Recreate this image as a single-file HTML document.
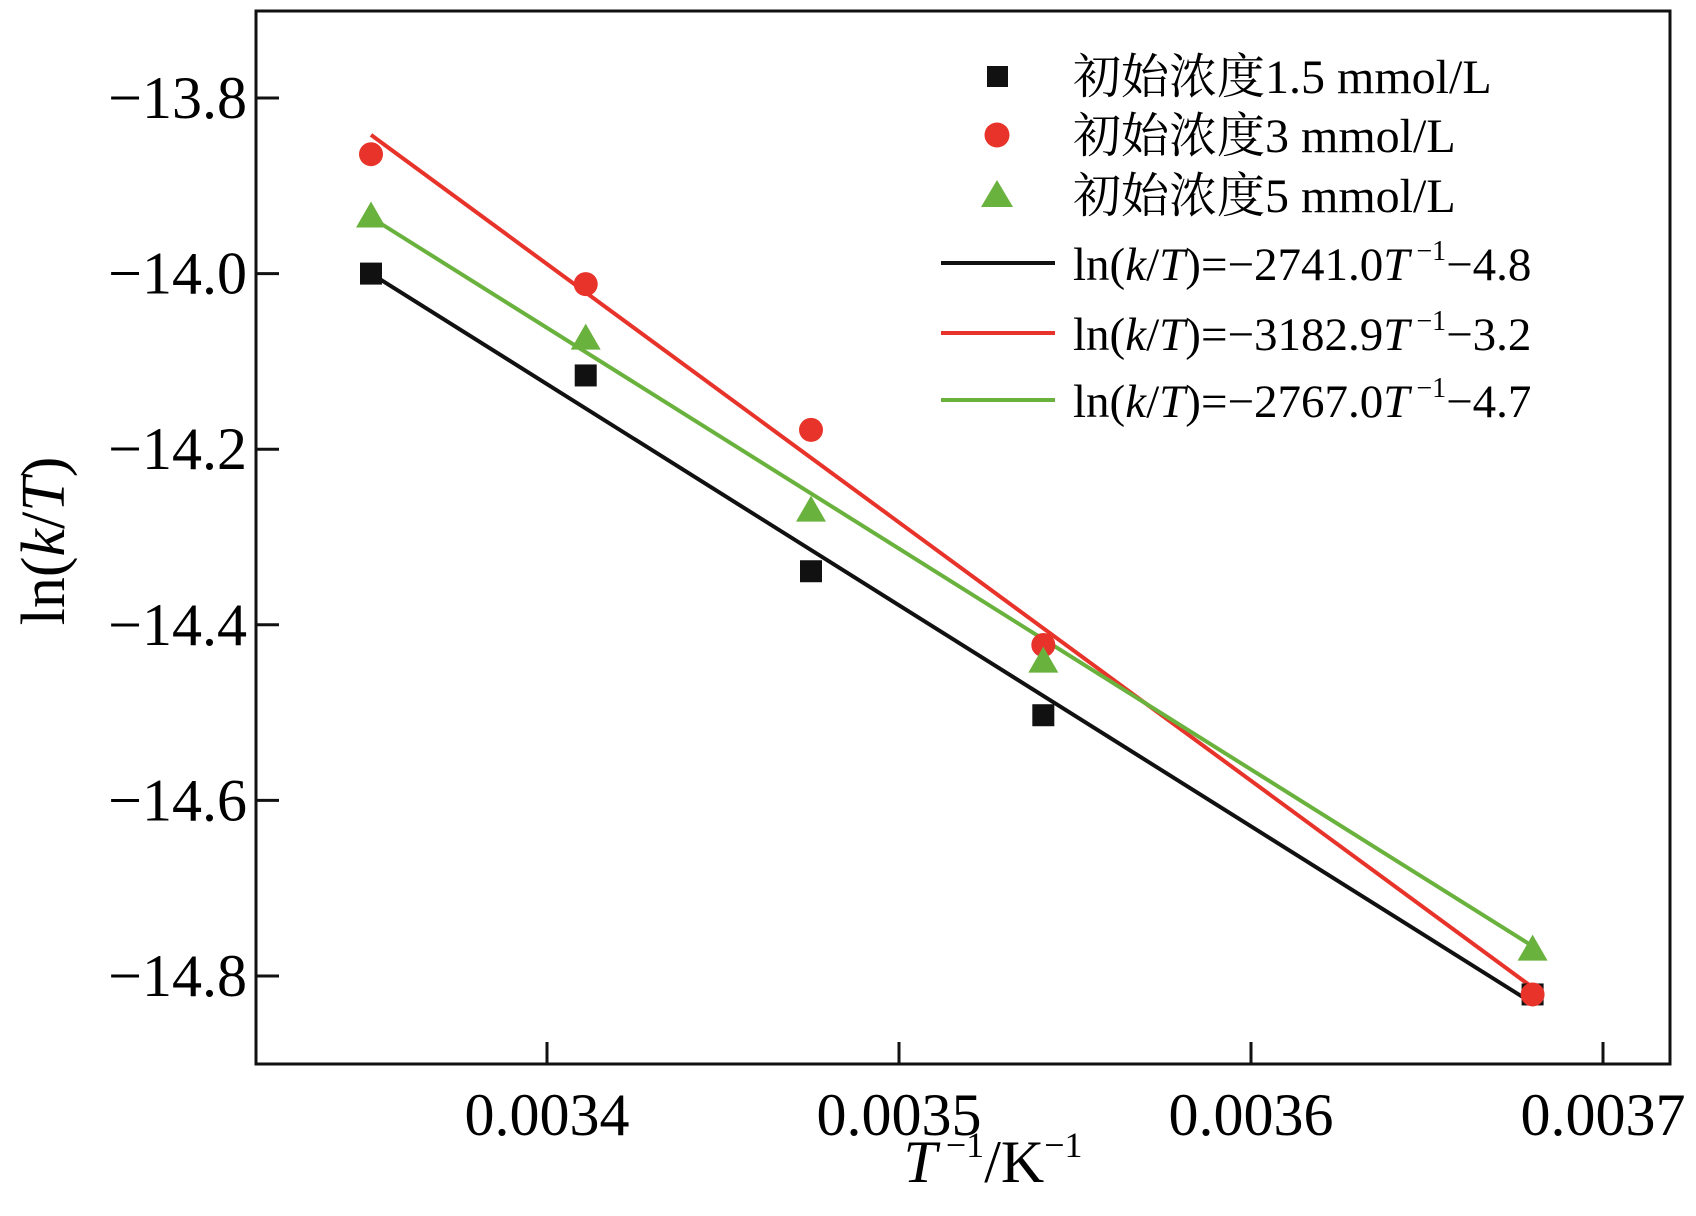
<!DOCTYPE html>
<html><head><meta charset="utf-8"><style>
html,body{margin:0;padding:0;background:#fff;}
svg{display:block;font-family:"Liberation Serif","Noto Serif CJK SC",serif;}
</style></head><body>
<svg id="chart" width="1696" height="1216" viewBox="0 0 1696 1216">
<rect x="256" y="11" width="1414" height="1053" fill="none" stroke="#111" stroke-width="3"/>
<g id="ticks"></g>
<g id="lines"></g>
<g id="points"></g>
<g id="legend">
  <rect x="987" y="66" width="21" height="21" fill="#111"/>
  <text x="1073" y="93" font-size="48">初始浓度1.5 mmol/L</text>
  <circle cx="997" cy="135" r="12.5" fill="#e8332a"/>
  <text x="1073" y="152" font-size="48">初始浓度3 mmol/L</text>
  <polygon points="997,180 1013,207 981,207" fill="#6ab23e"/>
  <text x="1073" y="212" font-size="48">初始浓度5 mmol/L</text>
  <line x1="941" y1="263" x2="1055" y2="263" stroke="#111" stroke-width="4"/>
  <text x="1073" y="280" font-size="47">ln(<tspan font-style="italic">k</tspan>/<tspan font-style="italic">T</tspan>)=−2741.0<tspan font-style="italic">T</tspan><tspan font-size="28" dy="-20"> −1</tspan><tspan dy="20">−4.8</tspan></text>
  <line x1="941" y1="333" x2="1055" y2="333" stroke="#e8332a" stroke-width="4"/>
  <text x="1073" y="350" font-size="47">ln(<tspan font-style="italic">k</tspan>/<tspan font-style="italic">T</tspan>)=−3182.9<tspan font-style="italic">T</tspan><tspan font-size="28" dy="-20"> −1</tspan><tspan dy="20">−3.2</tspan></text>
  <line x1="941" y1="400" x2="1055" y2="400" stroke="#6ab23e" stroke-width="4"/>
  <text x="1073" y="417" font-size="47">ln(<tspan font-style="italic">k</tspan>/<tspan font-style="italic">T</tspan>)=−2767.0<tspan font-style="italic">T</tspan><tspan font-size="28" dy="-20"> −1</tspan><tspan dy="20">−4.7</tspan></text>
</g>
<text transform="translate(64,541) rotate(-90)" text-anchor="middle" font-size="62">ln(<tspan font-style="italic">k</tspan>/<tspan font-style="italic">T</tspan>)</text>
<text x="993" y="1182" text-anchor="middle" font-size="60"><tspan font-style="italic">T</tspan><tspan font-size="36" dy="-25"> −1</tspan><tspan dy="25">/K</tspan><tspan font-size="36" dy="-25">−1</tspan></text>
</svg>
<script>
const xTicks = [0.0034, 0.0035, 0.0036, 0.0037];
const xTickLabels = ["0.0034", "0.0035", "0.0036", "0.0037"];
const yTicks = [-13.8, -14.0, -14.2, -14.4, -14.6, -14.8];
const yTickLabels = ["−13.8", "−14.0", "−14.2", "−14.4", "−14.6", "−14.8"];
const invT = [0.003350, 0.003411, 0.003475, 0.003541, 0.003680];
const series15 = [-14.000, -14.116, -14.339, -14.503, -14.821];
const series3 = [-13.864, -14.012, -14.178, -14.423, -14.821];
const series5 = [-13.935, -14.074, -14.270, -14.442, -14.770];
const fitX = [0.003350, 0.003680];
const fit15 = [-14.000, -14.831];
const fit3 = [-13.842, -14.813];
const fit5 = [-13.936, -14.766];

const NS = "http://www.w3.org/2000/svg";
function xs(v){ return 547 + (v - 0.0034) / 0.0001 * 352; }
function ys(v){ return 98 + (-13.8 - v) / 0.2 * 175.6; }
function mk(tag, attrs, parent){ const e=document.createElementNS(NS,tag); for(const k in attrs) e.setAttribute(k,attrs[k]); parent.appendChild(e); return e; }

const tg = document.getElementById('ticks');
xTicks.forEach((v,i)=>{
  const t = mk('line',{x1:xs(v),y1:1064,x2:xs(v),y2:1042,stroke:'#111','stroke-width':3},tg);
  
  
  const l = mk('text',{x:xs(v),y:1135,'text-anchor':'middle','font-size':60},tg);
  l.textContent = xTickLabels[i];
  
  
});
yTicks.forEach((v,i)=>{
  const t = mk('line',{x1:256,y1:ys(v),x2:279,y2:ys(v),stroke:'#111','stroke-width':3},tg);
  
  
  const l = mk('text',{x:247,y:ys(v)+20,'text-anchor':'end','font-size':60},tg);
  l.textContent = yTickLabels[i];
  
  
});

const lg = document.getElementById('lines');
[[fit15,'#111','fit-line-1-5'],[fit3,'#e8332a','fit-line-3'],[fit5,'#6ab23e','fit-line-5']].forEach(([f,c,n])=>{
  const l = mk('line',{x1:xs(fitX[0]),y1:ys(f[0]),x2:xs(fitX[1]),y2:ys(f[1]),stroke:c,'stroke-width':4},lg);
  
  
});

const pg = document.getElementById('points');
invT.forEach((x,i)=>{
  const cx=xs(x), y=ys(series15[i]);
  const s = mk('rect',{x:cx-11,y:y-11,width:22,height:22,fill:'#111'},pg);
  
  
});
invT.forEach((x,i)=>{
  const c = mk('circle',{cx:xs(x),cy:ys(series3[i]),r:12,fill:'#e8332a'},pg);
  
  
});
invT.forEach((x,i)=>{
  const cx=xs(x), y=ys(series5[i]);
  const p = mk('polygon',{points:`${cx},${y-15} ${cx+15},${y+11} ${cx-15},${y+11}`,fill:'#6ab23e'},pg);
  
  
});
</script>
</body></html>
